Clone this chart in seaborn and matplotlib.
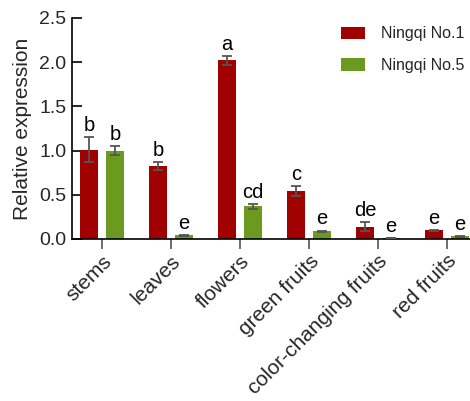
import matplotlib
matplotlib.use("Agg")
import matplotlib.pyplot as plt
import seaborn as sns
import pandas as pd
import numpy as np

# Tissues and relative expression (mean ± SD) for two cultivars
tissues = ["stems", "leaves", "flowers", "green fruits", "color-changing fruits", "red fruits"]
cultivars = ["Ningqi No.1", "Ningqi No.5"]
mean_no1 = [1.01, 0.83, 2.02, 0.54, 0.14, 0.10]
err_no1 = [0.14, 0.045, 0.05, 0.055, 0.05, 0.006]
mean_no5 = [1.00, 0.04, 0.37, 0.09, 0.012, 0.03]
err_no5 = [0.05, 0.006, 0.028, 0.006, 0.004, 0.006]
letters_no1 = ["b", "b", "a", "c", "de", "e"]
letters_no5 = ["b", "e", "cd", "e", "e", "e"]

df = pd.DataFrame({
    "tissue": tissues * 2,
    "cultivar": [cultivars[0]] * len(tissues) + [cultivars[1]] * len(tissues),
    "value": mean_no1 + mean_no5,
})

sns.set_theme(style="ticks")
plt.rcParams["font.family"] = ["Liberation Sans", "DejaVu Sans"]

fig = plt.figure(figsize=(4.70, 4.01), dpi=100)
ax = fig.add_axes([72 / 470, 1 - 239 / 401, (477 - 72) / 470, (239 - 18) / 401])

palette = {"Ningqi No.1": "#a00000", "Ningqi No.5": "#6a9a1f"}
sns.barplot(data=df, x="tissue", y="value", hue="cultivar", order=tissues,
            hue_order=cultivars, palette=palette, width=0.76, gap=0.34,
            errorbar=None, saturation=1, ax=ax, linewidth=0)

# Error bars and significance letters, placed at each bar's center
means = [mean_no1, mean_no5]
errs = [err_no1, err_no5]
letters = [letters_no1, letters_no5]
bar_groups = list(ax.containers)
for ci, container in enumerate(bar_groups):
    for ti, patch in enumerate(container.patches):
        xc = patch.get_x() + patch.get_width() / 2
        m, e = means[ci][ti], errs[ci][ti]
        ax.errorbar(xc, m, yerr=e, fmt="none", ecolor="#555555",
                    elinewidth=1.3, capsize=3.5, capthick=1.3, zorder=3)
        ax.annotate(letters[ci][ti], (xc, m + e), xytext=(0, 1.5),
                    textcoords="offset points", ha="center", va="bottom",
                    fontsize=14.5, color="black")

ax.set_xlim(-0.435, 5.435)
ax.set_ylim(0, 2.5)
ax.set_yticks([0, 0.5, 1.0, 1.5, 2.0, 2.5])
ax.set_yticklabels(["0.0", "0.5", "1.0", "1.5", "2.0", "2.5"])
ax.set_xlabel("")
ax.set_ylabel("Relative expression", fontsize=15, labelpad=5)

ax.tick_params(axis="y", direction="in", length=7, width=1.2, labelsize=14,
               pad=4, color="black")
ax.tick_params(axis="x", direction="out", length=7, width=1.2, labelsize=15,
               color="#555555", pad=2)
plt.setp(ax.get_xticklabels(), rotation=45, ha="right", rotation_mode="anchor")

for side in ["top", "right"]:
    ax.spines[side].set_visible(False)
for side in ["left", "bottom"]:
    ax.spines[side].set_linewidth(1.2)
    ax.spines[side].set_color("black")

ax.legend(frameon=False, fontsize=11.5, handlelength=1.45, handleheight=0.8,
          labelspacing=1.05, handletextpad=1.0, loc="upper left",
          bbox_to_anchor=(335 / 470, 1 - 20 / 401), bbox_transform=fig.transFigure,
          borderaxespad=0)

fig.savefig("out.png", dpi=100)
